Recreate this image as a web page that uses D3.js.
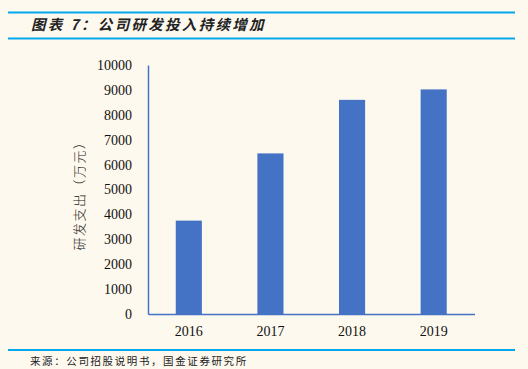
<!DOCTYPE html>
<html>
<head>
<meta charset="utf-8">
<script src="https://cdn.jsdelivr.net/npm/d3@7"></script>
<style>
  body { margin: 0; background: #fef9ef; }
  svg { display: block; }
</style>
</head>
<body>
<svg id="chart" width="528" height="369"></svg>
<script>
// chart data
var years = ["2016", "2017", "2018", "2019"];
var rdSpend = [3750, 6450, 8600, 9020];
var yTicks = [0, 1000, 2000, 3000, 4000, 5000, 6000, 7000, 8000, 9000, 10000];

var titleText = "图表 7：公司研发投入持续增加";
var yLabel = "研发支出（万元）";
var sourceText = "来源：公司招股说明书，国金证券研究所";

var svg = d3.select("#chart");
var W = 528, H = 369;
var lineBlue = "#00a9ec";
var barBlue = "#4472c4";
var cjk = "'Noto Sans CJK SC', sans-serif";
var serif = "'Liberation Serif', 'Times New Roman', serif";

svg.append("rect").attr("width", W).attr("height", H).attr("fill", "#fef9ef");

// header and footer rules
[12.5, 38.5, 350].forEach(function(y){
  svg.append("line")
    .attr("x1", 8).attr("x2", 515)
    .attr("y1", y).attr("y2", y)
    .attr("stroke", lineBlue).attr("stroke-width", 2);
});

svg.append("text")
  .attr("x", 31).attr("y", 30)
  .attr("font-family", cjk)
  .attr("font-size", 14.5)
  .attr("font-weight", "bold")
  .attr("font-style", "italic")
  .attr("letter-spacing", 2.3)
  .attr("fill", "#222")
  .text(titleText);

svg.append("text")
  .attr("x", 30).attr("y", 365)
  .attr("font-family", cjk)
  .attr("font-size", 10.5)
  .attr("letter-spacing", 1.6)
  .attr("fill", "#222")
  .text(sourceText);

// plot area
var x0 = 148, x1 = 474.5, yTop = 65, yBot = 314;

var x = d3.scaleBand().domain(years).range([x0, x1]).paddingInner(0.68).paddingOuter(0.34);
var y = d3.scaleLinear().domain([0, 10000]).range([yBot, yTop]);

svg.selectAll("rect.bar")
  .data(years)
  .enter()
  .append("rect")
  .attr("class", "bar")
  .attr("x", function(d){ return x(d); })
  .attr("width", x.bandwidth())
  .attr("y", function(d, i){ return y(rdSpend[i]); })
  .attr("height", function(d, i){ return yBot - y(rdSpend[i]); })
  .attr("fill", barBlue);

var yAxis = svg.append("g")
  .attr("transform", "translate(" + x0 + ",0)")
  .call(d3.axisLeft(y).tickValues(yTicks).tickFormat(d3.format("d")).tickSize(0).tickPadding(16));
yAxis.select(".domain").attr("stroke", barBlue).attr("stroke-width", 1.5);
yAxis.attr("font-family", serif).attr("font-size", 14);
yAxis.selectAll("text").attr("fill", "#111");

var xAxis = svg.append("g")
  .attr("transform", "translate(0," + yBot + ")")
  .call(d3.axisBottom(x).tickSize(0).tickPadding(12).tickSizeOuter(0));
xAxis.select(".domain").attr("stroke", barBlue).attr("stroke-width", 1.5);
xAxis.attr("font-family", serif).attr("font-size", 14);
xAxis.selectAll("text").attr("fill", "#111");

svg.append("text")
  .attr("transform", "translate(84," + ((yTop + yBot) / 2 + 3) + ") rotate(-90)")
  .attr("text-anchor", "middle")
  .attr("font-family", cjk)
  .attr("font-size", 13)
  .attr("font-weight", 300)
  .attr("letter-spacing", 1.5)
  .attr("fill", "#222")
  .text(yLabel);
</script>
</body>
</html>
